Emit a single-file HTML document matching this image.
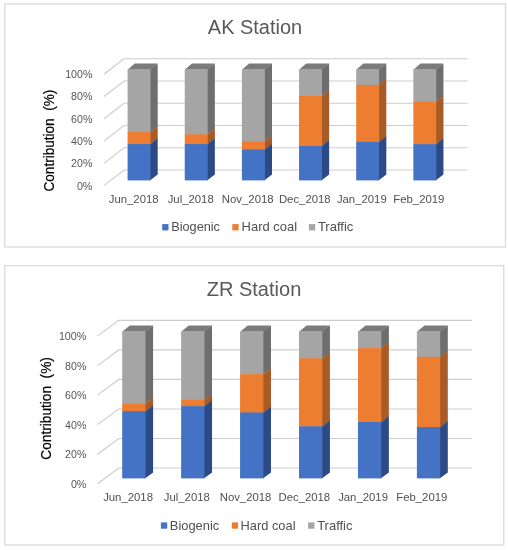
<!DOCTYPE html>
<html lang="en"><head><meta charset="utf-8"><title>AK and ZR Station source contributions</title>
<style>
html,body{margin:0;padding:0;background:#fff;}
body{width:508px;height:550px;overflow:hidden;}
svg{display:block;font-family:"Liberation Sans",Arial,sans-serif;}
</style></head><body>
<svg width="508" height="550" viewBox="0 0 508 550">
<rect width="508" height="550" fill="#fff"/>
<g>
<rect x="4.8" y="3.9" width="500.7" height="243.1" fill="#fff" stroke="#DDDDDD" stroke-width="1.4"/>
<text x="255" y="33.5" font-size="20" fill="#595959" text-anchor="middle" textLength="94.3" lengthAdjust="spacingAndGlyphs">AK Station</text>
<polyline points="104,185.6 124,170 467.7,170" fill="none" stroke="#CDCDCD" stroke-width="1.15"/>
<text x="92.4" y="189.5" font-size="10.8" fill="#555" text-anchor="end" textLength="15.5" lengthAdjust="spacingAndGlyphs">0%</text>
<polyline points="104,163.34 124,147.74 467.7,147.74" fill="none" stroke="#CDCDCD" stroke-width="1.15"/>
<text x="92.4" y="167.24" font-size="10.8" fill="#555" text-anchor="end" textLength="21.3" lengthAdjust="spacingAndGlyphs">20%</text>
<polyline points="104,141.08 124,125.48 467.7,125.48" fill="none" stroke="#CDCDCD" stroke-width="1.15"/>
<text x="92.4" y="144.98" font-size="10.8" fill="#555" text-anchor="end" textLength="21.3" lengthAdjust="spacingAndGlyphs">40%</text>
<polyline points="104,118.82 124,103.22 467.7,103.22" fill="none" stroke="#CDCDCD" stroke-width="1.15"/>
<text x="92.4" y="122.72" font-size="10.8" fill="#555" text-anchor="end" textLength="21.3" lengthAdjust="spacingAndGlyphs">60%</text>
<polyline points="104,96.56 124,80.96 467.7,80.96" fill="none" stroke="#CDCDCD" stroke-width="1.15"/>
<text x="92.4" y="100.46" font-size="10.8" fill="#555" text-anchor="end" textLength="21.3" lengthAdjust="spacingAndGlyphs">80%</text>
<polyline points="104,74.3 124,58.7 467.7,58.7" fill="none" stroke="#CDCDCD" stroke-width="1.15"/>
<text x="92.4" y="78.2" font-size="10.8" fill="#555" text-anchor="end" textLength="27.2" lengthAdjust="spacingAndGlyphs">100%</text>
<text transform="translate(54,140.6) rotate(-90)" font-size="14.5" fill="#000" stroke="#000" stroke-width="0.2" text-anchor="middle" textLength="101.8" lengthAdjust="spacingAndGlyphs" style="white-space:pre">Contribution  (%)</text>
<polygon points="149.9,132.53 157.7,126.73 157.7,63.4 149.9,69.7" fill="#6E6E6E"/>
<polygon points="149.9,144.54 157.7,138.74 157.7,126.23 149.9,132.53" fill="#A95B25"/>
<polygon points="149.9,180.4 157.7,174.6 157.7,138.24 149.9,144.54" fill="#2C4A85"/>
<polygon points="127.6,69.7 134.8,63.4 157.7,63.4 150.5,69.7" fill="#7B7B7B"/>
<rect x="127.6" y="69.2" width="22.9" height="63.33" fill="#A5A5A5"/>
<rect x="127.6" y="132.03" width="22.9" height="12.51" fill="#ED7D31"/>
<rect x="127.6" y="144.04" width="22.9" height="36.36" fill="#4472C4"/>
<polygon points="207.05,134.86 214.85,129.06 214.85,63.4 207.05,69.7" fill="#6E6E6E"/>
<polygon points="207.05,144.54 214.85,138.74 214.85,128.56 207.05,134.86" fill="#A95B25"/>
<polygon points="207.05,180.4 214.85,174.6 214.85,138.24 207.05,144.54" fill="#2C4A85"/>
<polygon points="184.75,69.7 191.95,63.4 214.85,63.4 207.65,69.7" fill="#7B7B7B"/>
<rect x="184.75" y="69.2" width="22.9" height="65.66" fill="#A5A5A5"/>
<rect x="184.75" y="134.36" width="22.9" height="10.17" fill="#ED7D31"/>
<rect x="184.75" y="144.04" width="22.9" height="36.36" fill="#4472C4"/>
<polygon points="264.2,141.76 272,135.96 272,63.4 264.2,69.7" fill="#6E6E6E"/>
<polygon points="264.2,149.99 272,144.19 272,135.46 264.2,141.76" fill="#A95B25"/>
<polygon points="264.2,180.4 272,174.6 272,143.69 264.2,149.99" fill="#2C4A85"/>
<polygon points="241.9,69.7 249.1,63.4 272,63.4 264.8,69.7" fill="#7B7B7B"/>
<rect x="241.9" y="69.2" width="22.9" height="72.56" fill="#A5A5A5"/>
<rect x="241.9" y="141.26" width="22.9" height="8.73" fill="#ED7D31"/>
<rect x="241.9" y="149.49" width="22.9" height="30.91" fill="#4472C4"/>
<polygon points="321.35,96.5 329.15,90.7 329.15,63.4 321.35,69.7" fill="#6E6E6E"/>
<polygon points="321.35,146.54 329.15,140.74 329.15,90.2 321.35,96.5" fill="#A95B25"/>
<polygon points="321.35,180.4 329.15,174.6 329.15,140.24 321.35,146.54" fill="#2C4A85"/>
<polygon points="299.05,69.7 306.25,63.4 329.15,63.4 321.95,69.7" fill="#7B7B7B"/>
<rect x="299.05" y="69.2" width="22.9" height="27.3" fill="#A5A5A5"/>
<rect x="299.05" y="96" width="22.9" height="50.54" fill="#ED7D31"/>
<rect x="299.05" y="146.04" width="22.9" height="34.36" fill="#4472C4"/>
<polygon points="378.5,85.38 386.3,79.58 386.3,63.4 378.5,69.7" fill="#6E6E6E"/>
<polygon points="378.5,142.42 386.3,136.62 386.3,79.08 378.5,85.38" fill="#A95B25"/>
<polygon points="378.5,180.4 386.3,174.6 386.3,136.12 378.5,142.42" fill="#2C4A85"/>
<polygon points="356.2,69.7 363.4,63.4 386.3,63.4 379.1,69.7" fill="#7B7B7B"/>
<rect x="356.2" y="69.2" width="22.9" height="16.18" fill="#A5A5A5"/>
<rect x="356.2" y="84.88" width="22.9" height="57.55" fill="#ED7D31"/>
<rect x="356.2" y="141.92" width="22.9" height="38.48" fill="#4472C4"/>
<polygon points="435.65,102.17 443.45,96.37 443.45,63.4 435.65,69.7" fill="#6E6E6E"/>
<polygon points="435.65,144.65 443.45,138.85 443.45,95.87 435.65,102.17" fill="#A95B25"/>
<polygon points="435.65,180.4 443.45,174.6 443.45,138.35 435.65,144.65" fill="#2C4A85"/>
<polygon points="413.35,69.7 420.55,63.4 443.45,63.4 436.25,69.7" fill="#7B7B7B"/>
<rect x="413.35" y="69.2" width="22.9" height="32.97" fill="#A5A5A5"/>
<rect x="413.35" y="101.67" width="22.9" height="42.98" fill="#ED7D31"/>
<rect x="413.35" y="144.15" width="22.9" height="36.25" fill="#4472C4"/>
<text x="133.65" y="202.8" font-size="11.35" fill="#505050" text-anchor="middle">Jun_2018</text>
<text x="190.69" y="202.8" font-size="11.35" fill="#505050" text-anchor="middle">Jul_2018</text>
<text x="247.73" y="202.8" font-size="11.35" fill="#505050" text-anchor="middle">Nov_2018</text>
<text x="304.77" y="202.8" font-size="11.35" fill="#505050" text-anchor="middle">Dec_2018</text>
<text x="361.81" y="202.8" font-size="11.35" fill="#505050" text-anchor="middle">Jan_2019</text>
<text x="418.85" y="202.8" font-size="11.35" fill="#505050" text-anchor="middle">Feb_2019</text>
<rect x="162.2" y="224.1" width="6.3" height="6.3" fill="#4472C4"/>
<text x="171.2" y="231.1" font-size="12.4" fill="#505050" textLength="48.8" lengthAdjust="spacingAndGlyphs">Biogenic</text>
<rect x="232.3" y="224.1" width="6.3" height="6.3" fill="#ED7D31"/>
<text x="241.6" y="231.1" font-size="12.4" fill="#505050" textLength="55.5" lengthAdjust="spacingAndGlyphs">Hard coal</text>
<rect x="308.9" y="224.1" width="6.3" height="6.3" fill="#A5A5A5"/>
<text x="317.9" y="231.1" font-size="12.4" fill="#505050" textLength="35.5" lengthAdjust="spacingAndGlyphs">Traffic</text>
</g>
<g>
<rect x="4.8" y="265.6" width="498.9" height="279.4" fill="#fff" stroke="#DDDDDD" stroke-width="1.4"/>
<text x="254" y="295.5" font-size="20" fill="#595959" text-anchor="middle" textLength="94.6" lengthAdjust="spacingAndGlyphs">ZR Station</text>
<polyline points="97.6,483.7 118.7,468 472.1,468" fill="none" stroke="#CDCDCD" stroke-width="1.15"/>
<text x="86.4" y="487.6" font-size="10.8" fill="#555" text-anchor="end" textLength="15.5" lengthAdjust="spacingAndGlyphs">0%</text>
<polyline points="97.6,454.18 118.7,438.48 472.1,438.48" fill="none" stroke="#CDCDCD" stroke-width="1.15"/>
<text x="86.4" y="458.08" font-size="10.8" fill="#555" text-anchor="end" textLength="21.3" lengthAdjust="spacingAndGlyphs">20%</text>
<polyline points="97.6,424.66 118.7,408.96 472.1,408.96" fill="none" stroke="#CDCDCD" stroke-width="1.15"/>
<text x="86.4" y="428.56" font-size="10.8" fill="#555" text-anchor="end" textLength="21.3" lengthAdjust="spacingAndGlyphs">40%</text>
<polyline points="97.6,395.14 118.7,379.44 472.1,379.44" fill="none" stroke="#CDCDCD" stroke-width="1.15"/>
<text x="86.4" y="399.04" font-size="10.8" fill="#555" text-anchor="end" textLength="21.3" lengthAdjust="spacingAndGlyphs">60%</text>
<polyline points="97.6,365.62 118.7,349.92 472.1,349.92" fill="none" stroke="#CDCDCD" stroke-width="1.15"/>
<text x="86.4" y="369.52" font-size="10.8" fill="#555" text-anchor="end" textLength="21.3" lengthAdjust="spacingAndGlyphs">80%</text>
<polyline points="97.6,336.1 118.7,320.4 472.1,320.4" fill="none" stroke="#CDCDCD" stroke-width="1.15"/>
<text x="86.4" y="340" font-size="10.8" fill="#555" text-anchor="end" textLength="27.5" lengthAdjust="spacingAndGlyphs">100%</text>
<text transform="translate(51.1,408.4) rotate(-90)" font-size="14.5" fill="#000" stroke="#000" stroke-width="0.2" text-anchor="middle" textLength="102.5" lengthAdjust="spacingAndGlyphs" style="white-space:pre">Contribution  (%)</text>
<polygon points="144.9,403.83 153.1,398.03 153.1,325.4 144.9,331.7" fill="#6E6E6E"/>
<polygon points="144.9,411.63 153.1,405.83 153.1,397.53 144.9,403.83" fill="#A95B25"/>
<polygon points="144.9,478.4 153.1,472.6 153.1,405.33 144.9,411.63" fill="#2C4A85"/>
<polygon points="122.2,331.7 129.8,325.4 153.1,325.4 145.5,331.7" fill="#7B7B7B"/>
<rect x="122.2" y="331.2" width="23.3" height="72.63" fill="#A5A5A5"/>
<rect x="122.2" y="403.33" width="23.3" height="8.3" fill="#ED7D31"/>
<rect x="122.2" y="411.13" width="23.3" height="67.27" fill="#4472C4"/>
<polygon points="203.84,400.3 212.04,394.5 212.04,325.4 203.84,331.7" fill="#6E6E6E"/>
<polygon points="203.84,406.62 212.04,400.82 212.04,394 203.84,400.3" fill="#A95B25"/>
<polygon points="203.84,478.4 212.04,472.6 212.04,400.32 203.84,406.62" fill="#2C4A85"/>
<polygon points="181.14,331.7 188.74,325.4 212.04,325.4 204.44,331.7" fill="#7B7B7B"/>
<rect x="181.14" y="331.2" width="23.3" height="69.1" fill="#A5A5A5"/>
<rect x="181.14" y="399.8" width="23.3" height="6.83" fill="#ED7D31"/>
<rect x="181.14" y="406.12" width="23.3" height="72.28" fill="#4472C4"/>
<polygon points="262.78,374.68 270.98,368.88 270.98,325.4 262.78,331.7" fill="#6E6E6E"/>
<polygon points="262.78,412.95 270.98,407.15 270.98,368.38 262.78,374.68" fill="#A95B25"/>
<polygon points="262.78,478.4 270.98,472.6 270.98,406.65 262.78,412.95" fill="#2C4A85"/>
<polygon points="240.08,331.7 247.68,325.4 270.98,325.4 263.38,331.7" fill="#7B7B7B"/>
<rect x="240.08" y="331.2" width="23.3" height="43.48" fill="#A5A5A5"/>
<rect x="240.08" y="374.18" width="23.3" height="38.77" fill="#ED7D31"/>
<rect x="240.08" y="412.45" width="23.3" height="65.95" fill="#4472C4"/>
<polygon points="321.72,358.78 329.92,352.98 329.92,325.4 321.72,331.7" fill="#6E6E6E"/>
<polygon points="321.72,426.79 329.92,420.99 329.92,352.48 321.72,358.78" fill="#A95B25"/>
<polygon points="321.72,478.4 329.92,472.6 329.92,420.49 321.72,426.79" fill="#2C4A85"/>
<polygon points="299.02,331.7 306.62,325.4 329.92,325.4 322.32,331.7" fill="#7B7B7B"/>
<rect x="299.02" y="331.2" width="23.3" height="27.58" fill="#A5A5A5"/>
<rect x="299.02" y="358.28" width="23.3" height="68.51" fill="#ED7D31"/>
<rect x="299.02" y="426.29" width="23.3" height="52.11" fill="#4472C4"/>
<polygon points="380.66,348.63 388.86,342.83 388.86,325.4 380.66,331.7" fill="#6E6E6E"/>
<polygon points="380.66,422.52 388.86,416.72 388.86,342.33 380.66,348.63" fill="#A95B25"/>
<polygon points="380.66,478.4 388.86,472.6 388.86,416.22 380.66,422.52" fill="#2C4A85"/>
<polygon points="357.96,331.7 365.56,325.4 388.86,325.4 381.26,331.7" fill="#7B7B7B"/>
<rect x="357.96" y="331.2" width="23.3" height="17.43" fill="#A5A5A5"/>
<rect x="357.96" y="348.13" width="23.3" height="74.39" fill="#ED7D31"/>
<rect x="357.96" y="422.02" width="23.3" height="56.38" fill="#4472C4"/>
<polygon points="439.6,357.31 447.8,351.51 447.8,325.4 439.6,331.7" fill="#6E6E6E"/>
<polygon points="439.6,427.53 447.8,421.73 447.8,351.01 439.6,357.31" fill="#A95B25"/>
<polygon points="439.6,478.4 447.8,472.6 447.8,421.23 439.6,427.53" fill="#2C4A85"/>
<polygon points="416.9,331.7 424.5,325.4 447.8,325.4 440.2,331.7" fill="#7B7B7B"/>
<rect x="416.9" y="331.2" width="23.3" height="26.11" fill="#A5A5A5"/>
<rect x="416.9" y="356.81" width="23.3" height="70.71" fill="#ED7D31"/>
<rect x="416.9" y="427.03" width="23.3" height="51.37" fill="#4472C4"/>
<text x="128.05" y="501" font-size="11.35" fill="#505050" text-anchor="middle">Jun_2018</text>
<text x="186.8" y="501" font-size="11.35" fill="#505050" text-anchor="middle">Jul_2018</text>
<text x="245.55" y="501" font-size="11.35" fill="#505050" text-anchor="middle">Nov_2018</text>
<text x="304.3" y="501" font-size="11.35" fill="#505050" text-anchor="middle">Dec_2018</text>
<text x="363.05" y="501" font-size="11.35" fill="#505050" text-anchor="middle">Jan_2019</text>
<text x="421.8" y="501" font-size="11.35" fill="#505050" text-anchor="middle">Feb_2019</text>
<rect x="160.9" y="522.4" width="6.3" height="6.3" fill="#4472C4"/>
<text x="169.8" y="529.5" font-size="12.4" fill="#505050" textLength="49.4" lengthAdjust="spacingAndGlyphs">Biogenic</text>
<rect x="231.8" y="522.4" width="6.3" height="6.3" fill="#ED7D31"/>
<text x="240.6" y="529.5" font-size="12.4" fill="#505050" textLength="54.9" lengthAdjust="spacingAndGlyphs">Hard coal</text>
<rect x="308.1" y="522.4" width="6.3" height="6.3" fill="#A5A5A5"/>
<text x="317.2" y="529.5" font-size="12.4" fill="#505050" textLength="35.3" lengthAdjust="spacingAndGlyphs">Traffic</text>
</g>
</svg>
</body></html>
